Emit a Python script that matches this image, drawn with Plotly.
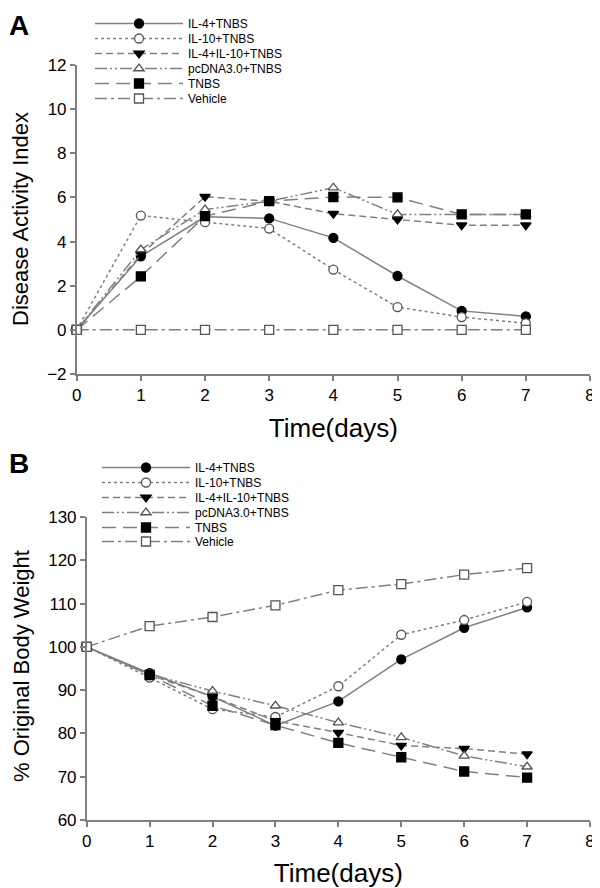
import plotly.graph_objects as go

days = [0, 1, 2, 3, 4, 5, 6, 7]
series_names = ["IL-4+TNBS", "IL-10+TNBS", "IL-4+IL-10+TNBS", "pcDNA3.0+TNBS", "TNBS", "Vehicle"]

# Panel A: Disease Activity Index
dai_il4 = [0, 3.33, 5.12, 5.05, 4.17, 2.44, 0.86, 0.61]
dai_il10 = [0, 5.18, 4.88, 4.59, 2.73, 1.03, 0.58, 0.30]
dai_il4_il10 = [0, 3.41, 6.03, 5.83, 5.26, 5.0, 4.74, 4.74]
dai_pcdna = [0, 3.64, 5.45, 5.83, 6.44, 5.23, 5.23, 5.23]
dai_tnbs = [0, 2.42, 5.15, 5.83, 6.02, 6.0, 5.23, 5.23]
dai_vehicle = [0, 0, 0, 0, 0, 0, 0, 0]

# Panel B: % Original Body Weight
bw_il4 = [100, 93.9, 88.5, 81.8, 87.4, 97.1, 104.4, 109.1]
bw_il10 = [100, 92.9, 85.6, 83.8, 90.9, 102.8, 106.2, 110.4]
bw_il4_il10 = [100, 93.5, 88.5, 82.9, 80.2, 77.2, 76.5, 75.2]
bw_pcdna = [100, 93.7, 89.8, 86.4, 82.5, 79.1, 74.8, 72.3]
bw_tnbs = [100, 93.5, 86.4, 81.9, 77.8, 74.5, 71.2, 69.8]
bw_vehicle = [100, 104.8, 106.9, 109.6, 113.1, 114.5, 116.7, 118.2]

x_ticks = [0, 1, 2, 3, 4, 5, 6, 7, 8]
a_ticks = [-2, 0, 2, 4, 6, 8, 10, 12]
b_ticks = [60, 70, 80, 90, 100, 110, 120, 130]

LINE = "#808080"
EDGE = "#555555"
FONT = "Liberation Sans, Arial, sans-serif"

# page has an 8px body margin: map page pixels to paper coordinates
OFF = 8
W = 600 - OFF
H = 888 - OFF


def PX(px):
    return (px - OFF) / W


def PY(py):
    return 1 - (py - OFF) / H


styles = [
    dict(dash="solid", symbol="circle", fill="black"),
    dict(dash="dot", symbol="circle", fill="white"),
    dict(dash="7px,4px", symbol="triangle-down", fill="black"),
    dict(dash="12px,3px,2px,3px,2px,3px", symbol="triangle-up", fill="white"),
    dict(dash="14px,7px", symbol="square", fill="black"),
    dict(dash="12px,4px,3px,4px", symbol="square", fill="white"),
]

fig = go.Figure()

panels = [
    ([dai_il4, dai_il10, dai_il4_il10, dai_pcdna, dai_tnbs, dai_vehicle], "x", "y",
     90, [23, 38, 53, 68, 83, 98]),
    ([bw_il4, bw_il10, bw_il4_il10, bw_pcdna, bw_tnbs, bw_vehicle], "x2", "y2",
     97, [467, 482, 497, 512, 527, 541]),
]

ROW_TOP = 14  # distance from legend box top to row centre

legends = {}
k = 1
for data, xa, ya, lx, rows in panels:
    for name, vals, st, ry in zip(series_names, data, styles, rows):
        lname = "legend" if k == 1 else f"legend{k}"
        fig.add_trace(go.Scatter(
            x=days, y=vals, name=name, mode="lines+markers",
            xaxis=xa, yaxis=ya, legend=lname, cliponaxis=False,
            line=dict(color=LINE, width=1.5, dash=st["dash"]),
            marker=dict(symbol=st["symbol"], size=9, color=st["fill"],
                        line=dict(color=EDGE if st["fill"] == "white" else "black", width=1.3)),
        ))
        legends[lname] = dict(
            x=PX(lx), y=min(1.0, PY(ry - ROW_TOP)), xanchor="left", yanchor="top",
            bgcolor="rgba(0,0,0,0)",
            font=dict(family=FONT, size=12, color="black"), itemwidth=88,
        )
        k += 1

axis_common = dict(
    showline=True, linecolor=LINE, linewidth=1.5, ticks="outside", ticklen=5,
    tickcolor=LINE, tickwidth=1.5, showgrid=False, zeroline=False, automargin=False,
    tickfont=dict(family=FONT, size=17, color="black"),
)

fig.update_layout(
    width=W, height=H,
    margin=dict(l=0, r=0, t=0, b=0, pad=0, autoexpand=False),
    paper_bgcolor="white", plot_bgcolor="white",
    font=dict(family=FONT, color="black"),
    xaxis=dict(domain=[PX(76.7), PX(590)], range=[0, 8], tickvals=x_ticks, anchor="y",
               title=dict(text="Time(days)", font=dict(family=FONT, size=26), standoff=15), **axis_common),
    yaxis=dict(domain=[PY(374), PY(65)], range=[-2, 12], tickvals=a_ticks, anchor="x", **axis_common),
    xaxis2=dict(domain=[PX(86.7), PX(590)], range=[0, 8], tickvals=x_ticks, anchor="y2",
                title=dict(text="Time(days)", font=dict(family=FONT, size=26), standoff=15), **axis_common),
    yaxis2=dict(domain=[PY(820), PY(517)], range=[60, 130], tickvals=b_ticks, anchor="x2", **axis_common),
    showlegend=True,
    annotations=[
        dict(text="<b>A</b>", x=PX(19), y=1.0, xref="paper", yref="paper", showarrow=False,
             font=dict(family=FONT, size=28, color="black"), xanchor="center", yanchor="top"),
        dict(text="<b>B</b>", x=PX(19), y=PY(463), xref="paper", yref="paper", showarrow=False,
             font=dict(family=FONT, size=28, color="black"), xanchor="center", yanchor="middle"),
        dict(text="Disease Activity Index", textangle=-90, x=PX(21), y=PY(219), xref="paper", yref="paper",
             showarrow=False, font=dict(family=FONT, size=22, color="black"), xanchor="center", yanchor="middle"),
        dict(text="% Original Body Weight", textangle=-90, x=PX(21), y=PY(666), xref="paper", yref="paper",
             showarrow=False, font=dict(family=FONT, size=22, color="black"), xanchor="center", yanchor="middle"),
    ],
    **legends,
)

fig.write_html("out.html")
